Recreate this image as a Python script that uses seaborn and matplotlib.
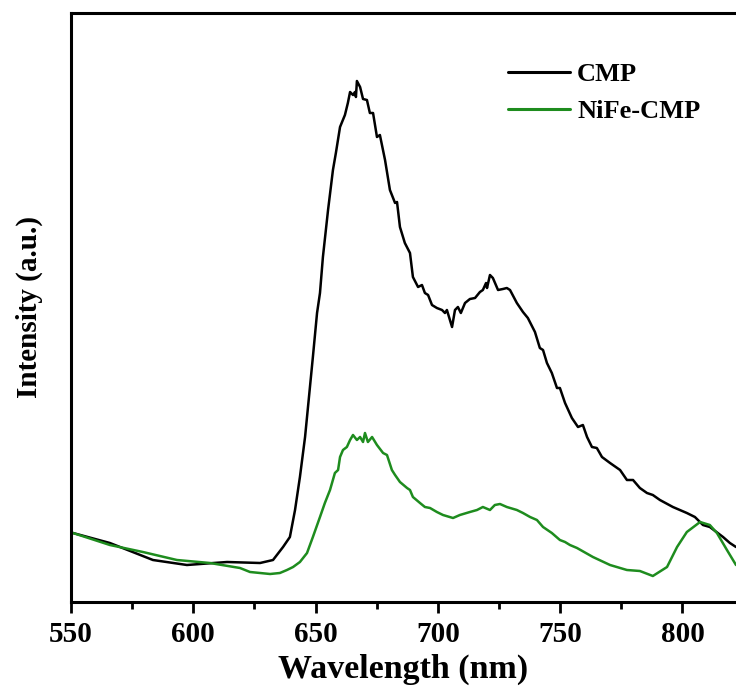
import matplotlib
matplotlib.use("Agg")
import matplotlib.pyplot as plt
import seaborn as sns
import pandas as pd
from matplotlib.ticker import MultipleLocator

# ---- data ----
cmp_wl = [550.8, 565.9, 583.5, 597.4, 613.8, 627.3, 632.6, 636.7, 639.5, 641.6,
          643.6, 645.7, 648.9, 650.6, 651.8, 653.0, 655.1, 657.1, 658.3, 660.0,
          662.0, 663.2, 664.1, 665.3, 666.1, 666.5, 666.9, 668.2, 669.4, 671.0,
          672.2, 673.5, 675.1, 676.3, 678.4, 680.4, 682.5, 683.3, 684.5, 686.5,
          688.6, 689.8, 691.9, 693.5, 694.7, 696.0, 697.6, 699.6, 701.7, 702.9,
          703.7, 705.8, 707.0, 708.2, 709.4, 711.1, 713.1, 715.2, 717.2, 718.4,
          719.7, 720.1, 721.3, 722.5, 724.6, 726.6, 728.2, 729.5, 732.3, 734.8,
          736.8, 739.7, 741.7, 743.0, 744.6, 746.6, 748.7, 749.9, 752.0, 754.8,
          757.3, 759.3, 761.0, 763.0, 765.0, 767.1, 770.4, 774.5, 777.3, 779.8,
          782.6, 785.5, 787.9, 790.8, 796.1, 801.8, 805.1, 808.4, 811.2, 816.6,
          819.4, 821.9]
cmp_int = [67, 57, 40, 35, 38, 37, 40, 53, 63, 90,
           123, 163, 243, 287, 307, 343, 390, 430, 447, 473,
           485, 497, 508, 505, 508, 503, 519, 513, 501, 500,
           487, 487, 463, 465, 440, 410, 397, 398, 373, 357,
           347, 323, 313, 315, 307, 305, 295, 292, 290, 287,
           290, 273, 290, 293, 287, 297, 301, 302, 308, 310,
           317, 312, 325, 322, 310, 311, 312, 310, 297, 288,
           282, 268, 252, 250, 237, 227, 212, 212, 197, 182,
           173, 175, 163, 153, 152, 143, 137, 130, 120, 120,
           112, 107, 105, 100, 93, 87, 83, 75, 73, 63,
           57, 53]

nife_wl = [550.8, 565.9, 579.4, 593.3, 606.8, 619.1, 623.2, 627.3, 631.4, 635.4,
           638.3, 640.8, 643.6, 646.5, 648.9, 651.8, 653.8, 655.9, 657.9, 659.2,
           660.0, 661.2, 662.8, 664.1, 665.3, 666.9, 668.2, 669.4, 670.2, 671.4,
           673.1, 675.1, 677.6, 679.2, 681.2, 682.5, 684.5, 687.4, 688.6, 689.8,
           692.7, 694.7, 696.8, 699.6, 702.1, 706.2, 709.0, 713.1, 716.0, 718.4,
           721.3, 723.3, 725.4, 728.2, 732.3, 734.8, 737.7, 740.5, 743.0, 746.6,
           749.9, 752.0, 754.0, 756.9, 763.4, 770.4, 777.3, 782.6, 787.9, 793.7,
           797.8, 801.8, 807.2, 811.2, 814.1, 818.2, 821.9]
nife_int = [67, 55, 48, 40, 37, 32, 28, 27, 26, 27,
            30, 33, 38, 47, 63, 83, 97, 110, 127, 130,
            143, 150, 153, 160, 165, 160, 163, 158, 167, 158,
            163, 155, 147, 145, 130, 125, 118, 112, 110, 103,
            97, 93, 92, 88, 85, 82, 85, 88, 90, 93,
            90, 95, 96, 93, 90, 87, 83, 80, 73, 67,
            60, 58, 55, 52, 43, 35, 30, 29, 24, 33,
            53, 68, 78, 75, 67, 50, 35]

series_names = ["CMP", "NiFe-CMP"]
x_ticks = [550, 600, 650, 700, 750, 800]

df = pd.concat([
    pd.DataFrame({"Wavelength": cmp_wl, "Intensity": cmp_int, "Sample": series_names[0]}),
    pd.DataFrame({"Wavelength": nife_wl, "Intensity": nife_int, "Sample": series_names[1]}),
], ignore_index=True)

sns.set_style("white")
plt.rcParams["font.family"] = ["Liberation Serif", "DejaVu Serif"]
plt.rcParams["font.weight"] = "bold"
plt.rcParams["text.color"] = "black"
plt.rcParams["axes.labelcolor"] = "black"
plt.rcParams["xtick.color"] = "black"
plt.rcParams["ytick.color"] = "black"

W, H = 736, 695
fig = plt.figure(figsize=(W / 100, H / 100), dpi=100)
ax = fig.add_axes([71 / W, (H - 602) / H, 1 - 71 / W, (602 - 13) / H])

sns.lineplot(data=df, x="Wavelength", y="Intensity", hue="Sample",
             palette={"CMP": "#000000", "NiFe-CMP": "#1E8C1E"},
             linewidth=1.8, ax=ax, sort=False, estimator=None)

ax.set_xlim(550, 821.9)
ax.set_ylim(-2, 587)
ax.set_xticks(x_ticks)
ax.set_xticklabels([str(t) for t in x_ticks])
ax.xaxis.set_minor_locator(MultipleLocator(25))
ax.set_yticks([])
ax.tick_params(axis="x", which="major", direction="out", length=8, width=2,
               labelsize=21, pad=6, bottom=True)
ax.tick_params(axis="x", which="minor", direction="out", length=5, width=2, bottom=True)
for lbl in ax.get_xticklabels():
    lbl.set_fontweight("bold")

for side in ["left", "bottom", "top"]:
    ax.spines[side].set_linewidth(2.2)
    ax.spines[side].set_color("black")
ax.spines["right"].set_visible(False)

ax.set_xlabel("Wavelength (nm)", fontsize=24.5, fontweight="bold", labelpad=4)
ax.set_ylabel("Intensity (a.u.)", fontsize=21, fontweight="bold", labelpad=20)

leg = ax.legend(loc="upper left", bbox_to_anchor=(508 / W, (H - 63) / H),
                bbox_transform=fig.transFigure, frameon=False, borderpad=0,
                borderaxespad=0, fontsize=19, handlelength=2.35,
                handletextpad=0.27, labelspacing=0.5)
for t in leg.get_texts():
    t.set_fontweight("bold")
for l in leg.get_lines():
    l.set_linewidth(2.2)

fig.savefig("out.png", dpi=100)
